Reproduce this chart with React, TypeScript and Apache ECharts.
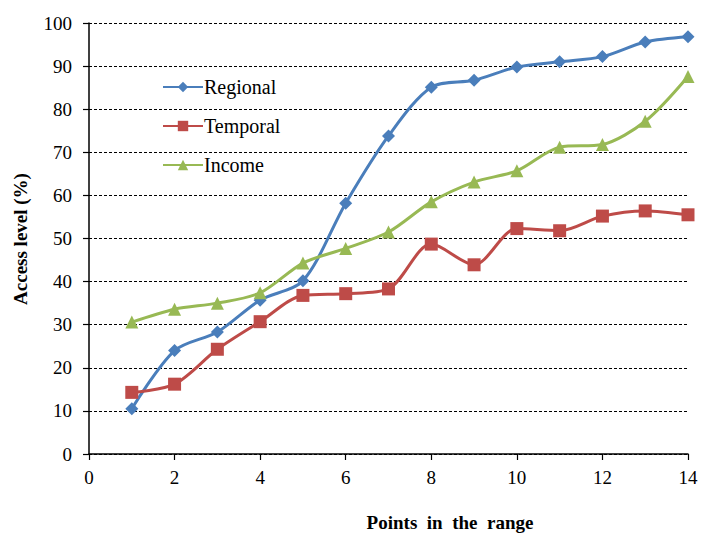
import React, { useEffect, useRef } from "react";
import * as echarts from "echarts";

const xValues = [1, 2, 3, 4, 5, 6, 7, 8, 9, 10, 11, 12, 13, 14];
const regional = [10.5, 24.0, 28.3, 35.7, 40.2, 58.2, 73.8, 85.1, 86.7, 89.8, 91.0, 92.2, 95.6, 96.8];
const temporal = [14.3, 16.2, 24.3, 30.7, 36.8, 37.2, 38.3, 48.7, 43.9, 52.3, 51.8, 55.2, 56.4, 55.5];
const income = [30.6, 33.6, 35.0, 37.4, 44.3, 47.7, 51.5, 58.5, 63.1, 65.7, 71.2, 71.8, 77.2, 87.6];

const FONT = "Liberation Serif";

export default function App() {
  const ref = useRef<HTMLDivElement>(null);
  useEffect(() => {
    if (!ref.current) return;
    const chart = echarts.init(ref.current, undefined, { renderer: "svg" });
    const mk = (arr: number[]) => xValues.map((x, i) => [x, arr[i]]);
    chart.setOption({
      animation: false,
      backgroundColor: "#fff",
      textStyle: { fontFamily: FONT },
      grid: { left: 89, right: 13, top: 23, bottom: 80 },
      legend: {
        orient: "vertical",
        left: 162,
        top: 77,
        padding: 0,
        itemWidth: 40,
        itemHeight: 13,
        itemGap: 19,
        textStyle: { fontFamily: FONT, fontSize: 20, color: "#000", padding: [0, 0, 0, -4] },
        data: ["Regional", "Temporal", "Income"],
      },
      xAxis: {
        type: "value",
        min: 0,
        max: 14,
        interval: 2,
        axisLine: { show: true, lineStyle: { color: "#000", width: 1.5 } },
        axisTick: { show: true, length: 6, lineStyle: { color: "#000", width: 1.2 } },
        axisLabel: { color: "#000", fontFamily: FONT, fontSize: 19, margin: 14 },
        splitLine: { show: false },
      },
      yAxis: {
        type: "value",
        min: 0,
        max: 100,
        interval: 10,
        axisLine: { show: true, lineStyle: { color: "#000", width: 1.5 } },
        axisTick: { show: true, length: 6, lineStyle: { color: "#000", width: 1.2 } },
        axisLabel: { color: "#000", fontFamily: FONT, fontSize: 19, margin: 17 },
        splitLine: { show: true, lineStyle: { color: "#000", type: [3, 2], width: 1 } },
      },
      graphic: [
        {
          type: "text",
          x: 450,
          y: 522,
          style: {
            text: "Points  in  the  range",
            fontFamily: FONT,
            fontSize: 19,
            fontWeight: "bold",
            fill: "#000",
            align: "center",
            verticalAlign: "middle",
          },
        },
        {
          type: "text",
          x: 20,
          y: 239,
          rotation: Math.PI / 2,
          style: {
            text: "Access level (%)",
            fontFamily: FONT,
            fontSize: 19,
            fontWeight: "bold",
            fill: "#000",
            align: "center",
            verticalAlign: "middle",
          },
        },
      ],
      series: [
        {
          name: "Regional",
          type: "line",
          smooth: 0.3,
          data: mk(regional),
          symbol: "diamond",
          symbolSize: 13,
          lineStyle: { color: "#4a7ebb", width: 3 },
          itemStyle: { color: "#4a7ebb" },
        },
        {
          name: "Temporal",
          type: "line",
          smooth: 0.3,
          data: mk(temporal),
          symbol: "rect",
          symbolSize: 13,
          lineStyle: { color: "#be4b48", width: 3 },
          itemStyle: { color: "#be4b48" },
        },
        {
          name: "Income",
          type: "line",
          smooth: 0.3,
          data: mk(income),
          symbol: "triangle",
          symbolSize: 13,
          lineStyle: { color: "#98b954", width: 3 },
          itemStyle: { color: "#98b954" },
        },
      ],
    });
    return () => chart.dispose();
  }, []);
  return (
    <div
      ref={ref}
      style={{ position: "fixed", left: 0, top: 0, width: 701, height: 534 }}
    />
  );
}
